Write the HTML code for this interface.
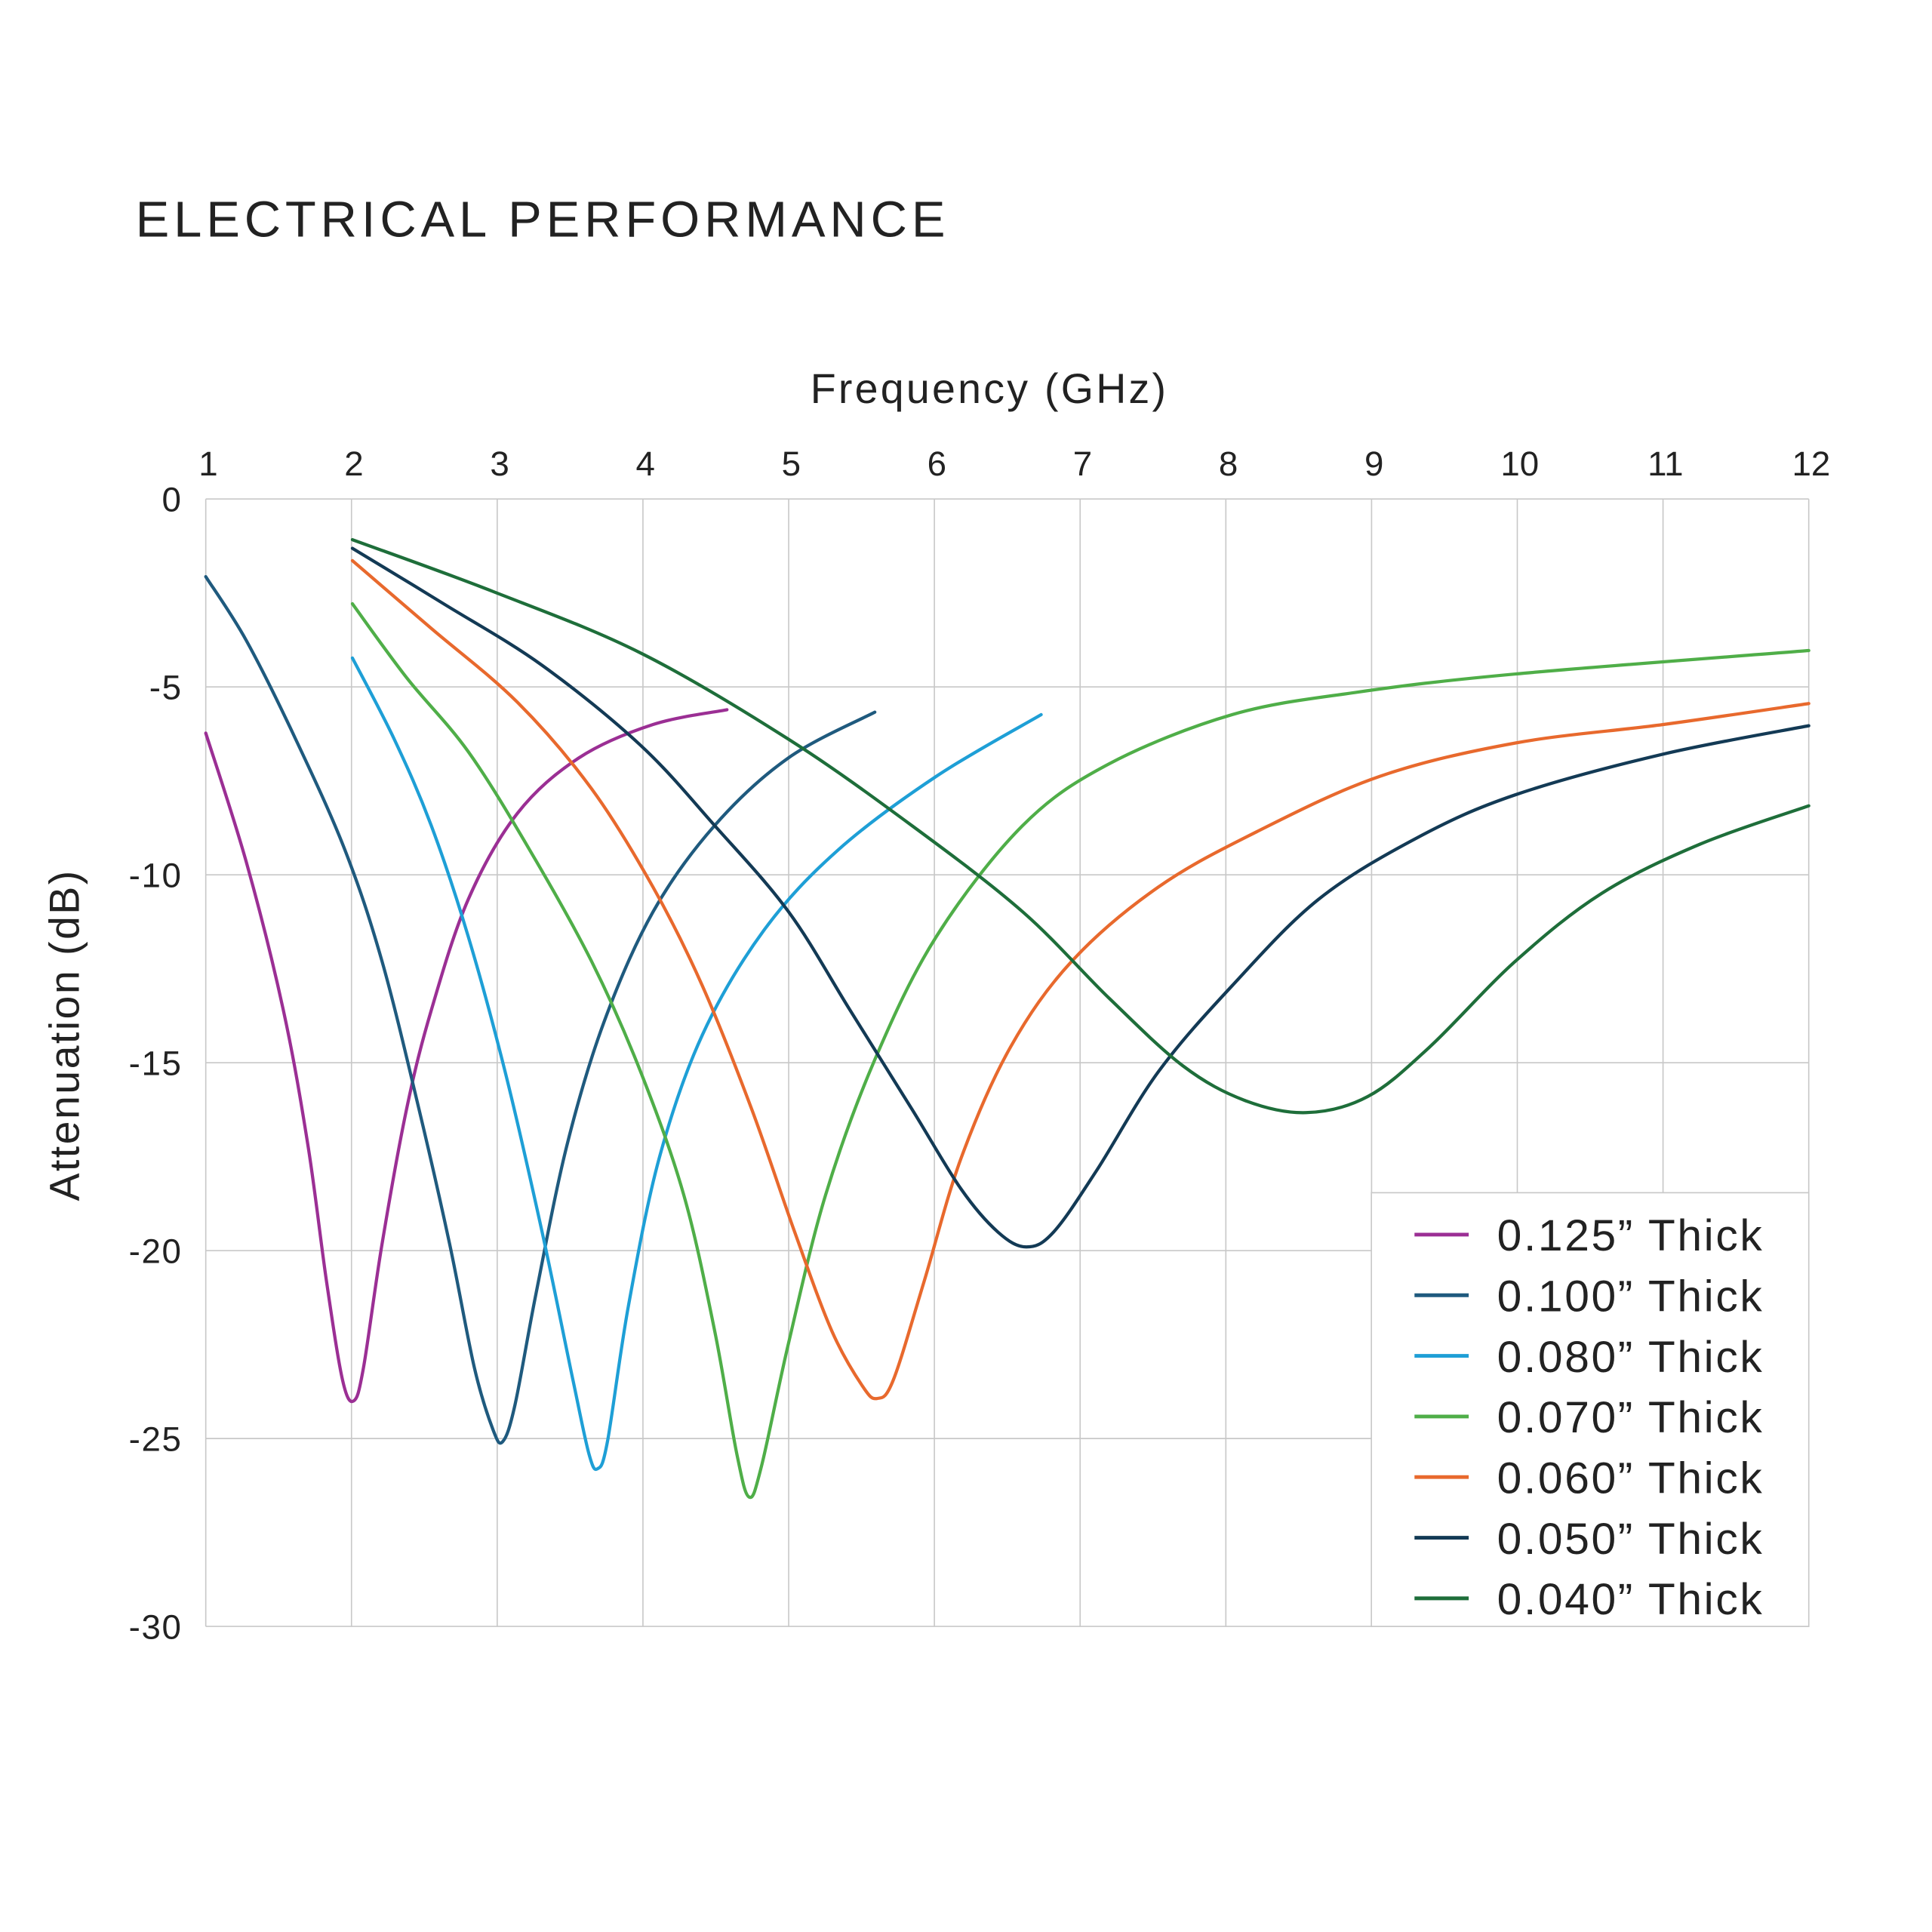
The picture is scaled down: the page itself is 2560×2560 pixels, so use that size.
<!DOCTYPE html>
<html><head><meta charset="utf-8"><style>
html,body{margin:0;padding:0;background:#fff;}
svg{display:block;}
text{font-family:"Liberation Sans",sans-serif;fill:#222;}
</style></head><body>
<svg id="s" width="2560" height="2560" viewBox="0 0 1568 1568" xmlns="http://www.w3.org/2000/svg">
<rect width="1568" height="1568" fill="#fff"/>
<text x="110" y="192" font-size="41" letter-spacing="3.6">ELECTRICAL PERFORMANCE</text>
<text x="803" y="327" font-size="34" text-anchor="middle" letter-spacing="2">Frequency (GHz)</text>
<text transform="translate(64,840) rotate(-90)" font-size="34" text-anchor="middle" letter-spacing="1.5">Attenuation (dB)</text>
<g id="grid" stroke="#c8c8c8" stroke-width="1" fill="none"></g>
<g id="labels" font-size="28"></g>
<g id="curves" fill="none" stroke-width="2.6" stroke-linejoin="round" stroke-linecap="round"></g>
<rect x="1113" y="968" width="355" height="352" fill="#fff" stroke="#c8c8c8" stroke-width="1"/>
<g id="legend" font-size="36"></g>
</svg>
<script>
var NS="http://www.w3.org/2000/svg";
function el(t,a,p,txt){var e=document.createElementNS(NS,t);for(var k in a)e.setAttribute(k,a[k]);if(txt!==undefined)e.textContent=txt;document.getElementById(p).appendChild(e);return e;}
var x0=167,dx=118.27,y0=405,dy=152.5;
for(var i=0;i<12;i++){var x=x0+i*dx;el('line',{x1:x,y1:y0,x2:x,y2:1320},'grid');el('text',{x:x+2,y:386,'text-anchor':'middle'},'labels',String(i+1));}
for(var j=0;j<7;j++){var y=y0+j*dy;el('line',{x1:x0,y1:y,x2:1468,y2:y},'grid');el('text',{x:148,y:y+10,'text-anchor':'end','letter-spacing':1},'labels',j==0?'0':'-'+(j*5));}
function path(p){var d='M'+p[0][0]+','+p[0][1];for(var i=0;i<p.length-1;i++){var a=p[i-1]||p[i],b=p[i],c=p[i+1],e=p[i+2]||c;
d+=' C'+(b[0]+(c[0]-a[0])/6)+','+(b[1]+(c[1]-a[1])/6)+' '+(c[0]-(e[0]-b[0])/6)+','+(c[1]-(e[1]-b[1])/6)+' '+c[0]+','+c[1];}return d;}
var S=[
['#9b2f94','0.125',[[167,595],[200,700],[230,820],[250,930],[265,1040],[278,1120],[287,1137],[295,1110],[310,1010],[330,900],[350,820],[380,730],[420,660],[470,615],[530,588],[590,576]]],
['#1f5a7e','0.100',[[167,468],[200,520],[240,600],[280,690],[310,780],[340,900],[365,1010],[385,1110],[400,1160],[408,1170],[418,1140],[435,1050],[460,930],[490,830],[530,740],[580,670],[640,615],[710,578]]],
['#1e9fd6','0.080',[[286,534],[320,600],[350,670],[380,760],[410,870],[440,1000],[465,1120],[478,1180],[485,1192],[493,1170],[510,1060],[535,940],[570,840],[620,755],[680,690],[760,630],[845,580]]],
['#4fae48','0.070',[[286,490],[330,550],[380,610],[430,690],[480,780],[520,870],[555,970],[580,1080],[598,1180],[608,1215],[618,1190],[640,1090],[670,970],[710,860],[760,760],[830,670],[900,620],[1000,580],[1100,562],[1230,547],[1468,528]]],
['#e8692d','0.060',[[286,455],[350,510],[420,570],[480,640],[530,720],[570,800],[610,900],[645,1000],[675,1080],[700,1125],[712,1135],[725,1120],[750,1040],[780,940],[820,850],[870,780],[940,720],[1020,675],[1120,630],[1230,603],[1350,588],[1468,571]]],
['#133a55','0.050',[[286,445],[360,490],[440,540],[520,605],[580,670],[640,740],[690,820],[740,900],[780,965],[810,1000],[833,1012],[855,1000],[890,950],[940,870],[1000,800],[1070,730],[1150,680],[1230,645],[1350,612],[1468,589]]],
['#1e6e3a','0.040',[[286,438],[400,480],[520,530],[640,600],[740,670],[830,740],[900,810],[960,865],[1010,893],[1060,903],[1110,890],[1160,850],[1230,780],[1300,725],[1380,685],[1468,654]]]
];
S.forEach(function(s,i){el('path',{d:path(s[2]),stroke:s[0]},'curves');
var y=1002+i*49.2;el('line',{x1:1148,y1:y,x2:1192,y2:y,stroke:s[0],'stroke-width':3},'legend');
el('text',{x:1215,y:y+13,'letter-spacing':1.6},'legend',s[1]+'\u201D Thick');});
</script>
</body></html>
